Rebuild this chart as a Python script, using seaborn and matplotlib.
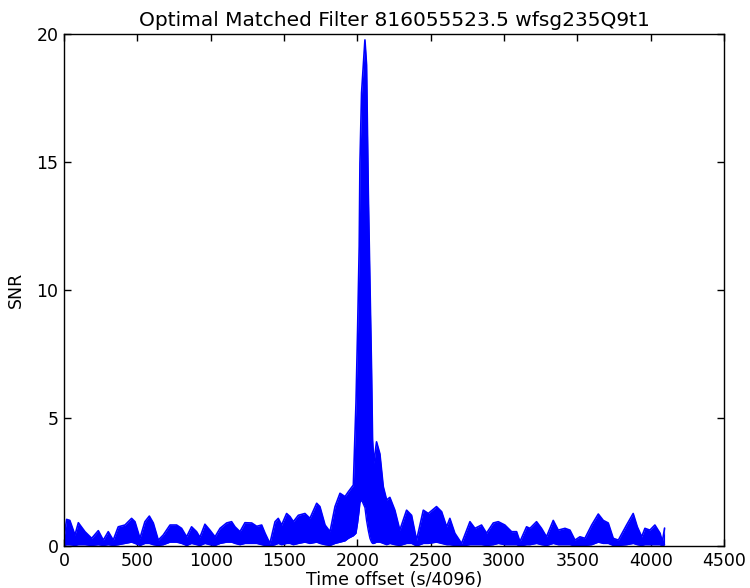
import numpy as np
import pandas as pd
import matplotlib
matplotlib.use("Agg")
import matplotlib.pyplot as plt
import seaborn as sns

# envelope of the SNR trace
time_offset = [0, 18, 40, 75, 98, 143, 189, 234, 268, 302, 336, 370, 416, 461, 484,
               518, 552, 582, 609, 643, 677, 723, 768, 802, 836, 870, 904, 927, 961,
               995, 1030, 1064, 1109, 1143, 1166, 1200, 1234, 1280, 1314, 1348, 1371,
               1404, 1439, 1461, 1484, 1518, 1541, 1564, 1598, 1643, 1677, 1723, 1745,
               1780, 1814, 1848, 1882, 1916, 1939, 1973, 1991, 2002, 2013, 2018, 2029,
               2052, 2063, 2075, 2086, 2097, 2104, 2113, 2131, 2154, 2177, 2200, 2222,
               2256, 2290, 2336, 2370, 2404, 2450, 2484, 2540, 2575, 2609, 2631, 2665,
               2711, 2768, 2802, 2847, 2881, 2927, 2961, 3006, 3052, 3086, 3109, 3154,
               3177, 3222, 3256, 3290, 3336, 3370, 3416, 3450, 3484, 3518, 3552, 3598,
               3643, 3677, 3711, 3745, 3780, 3836, 3881, 3909, 3939, 3961, 3995, 4029,
               4064, 4080, 4095]

snr_upper = [0.3, 1.04, 1.0, 0.43, 0.91, 0.56, 0.3, 0.6, 0.23, 0.56, 0.23, 0.75, 0.82,
             1.08, 0.95, 0.3, 0.95, 1.17, 0.9, 0.23, 0.43, 0.82, 0.82, 0.69, 0.36, 0.75,
             0.56, 0.34, 0.85, 0.62, 0.36, 0.69, 0.9, 0.95, 0.75, 0.56, 0.91, 0.9, 0.77,
             0.82, 0.5, 0.1, 0.95, 1.08, 0.82, 1.27, 1.15, 0.95, 1.2, 1.27, 1.08, 1.67,
             1.54, 0.82, 0.56, 1.54, 2.06, 1.93, 2.12, 2.38, 5.58, 8.44, 11.7, 14.95,
             17.7, 19.77, 18.8, 13.8, 10.3, 6.9, 4.14, 3.24, 4.07, 3.6, 2.32, 1.8, 1.9,
             1.4, 0.62, 1.4, 1.2, 0.23, 1.4, 1.27, 1.54, 1.34, 0.75, 1.08, 0.5, 0.1,
             0.95, 0.69, 0.82, 0.5, 0.9, 0.95, 0.82, 0.56, 0.56, 0.17, 0.75, 0.69, 0.95,
             0.69, 0.36, 1.0, 0.62, 0.69, 0.62, 0.23, 0.36, 0.3, 0.82, 1.25, 1.0, 0.9,
             0.3, 0.23, 0.82, 1.27, 0.75, 0.36, 0.69, 0.62, 0.82, 0.5, 0.17, 0.7]

snr_lower = [0.02, 0.05, 0.05, 0.02, 0.05, 0.05, 0.02, 0.05, 0.02, 0.05, 0.02, 0.05, 0.1,
             0.15, 0.1, 0.02, 0.1, 0.1, 0.05, 0.02, 0.05, 0.15, 0.15, 0.1, 0.02, 0.1, 0.05,
             0.02, 0.1, 0.05, 0.02, 0.1, 0.15, 0.15, 0.1, 0.05, 0.1, 0.1, 0.1, 0.05, 0.02,
             0.0, 0.05, 0.1, 0.05, 0.1, 0.1, 0.05, 0.1, 0.15, 0.1, 0.15, 0.1, 0.05,
             0.02, 0.1, 0.15, 0.2, 0.3, 0.4, 0.5, 0.9, 1.4, 1.7, 1.8, 1.5, 1.0, 0.6, 0.3,
             0.15, 0.1, 0.1, 0.15, 0.15, 0.1, 0.05, 0.1, 0.05, 0.02, 0.1, 0.1, 0.0, 0.1,
             0.1, 0.15, 0.1, 0.05, 0.05, 0.02, 0.0, 0.05, 0.05, 0.05, 0.02, 0.05, 0.1,
             0.05, 0.05, 0.05, 0.0, 0.05, 0.05, 0.1, 0.05, 0.02, 0.1, 0.05, 0.05, 0.05, 0.0,
             0.02, 0.02, 0.05, 0.15, 0.1, 0.1, 0.02, 0.02, 0.05, 0.1, 0.05, 0.02, 0.05,
             0.05, 0.05, 0.05, 0.0, 0.05]

df = pd.DataFrame({"t": time_offset, "upper": snr_upper, "lower": snr_lower})

sns.set_style("ticks")
plt.rcParams["font.family"] = ["DejaVu Sans"]
plt.rcParams["xtick.direction"] = "in"
plt.rcParams["ytick.direction"] = "in"
plt.rcParams["text.color"] = "black"
plt.rcParams["axes.labelcolor"] = "black"
plt.rcParams["xtick.color"] = "black"
plt.rcParams["ytick.color"] = "black"

fig = plt.figure(figsize=(7.5, 5.88), dpi=100)
ax = fig.add_axes([0.0853, 0.0714, 0.88, 0.8708])

ax.fill_between(df["t"], df["lower"], df["upper"], color="blue", linewidth=0)
sns.lineplot(data=df, x="t", y="upper", color="blue", linewidth=1.2, ax=ax)
sns.lineplot(data=df, x="t", y="lower", color="blue", linewidth=1.0, ax=ax)

ax.set_xlim(0, 4500)
ax.set_ylim(0, 20)
ax.set_xticks(range(0, 4501, 500))
ax.set_yticks([0, 5, 10, 15, 20])
ax.tick_params(top=True, right=True, length=5, width=1, labelsize=12.5, pad=4)
for s in ax.spines.values():
    s.set_linewidth(1)
    s.set_color("black")

ax.set_title("Optimal Matched Filter 816055523.5 wfsg235Q9t1", fontsize=14.5, pad=6)
ax.set_xlabel("Time offset (s/4096)", fontsize=12.5, labelpad=1)
ax.set_ylabel("SNR", fontsize=12.5, labelpad=8)

fig.savefig("out.png", dpi=100, facecolor="white")
